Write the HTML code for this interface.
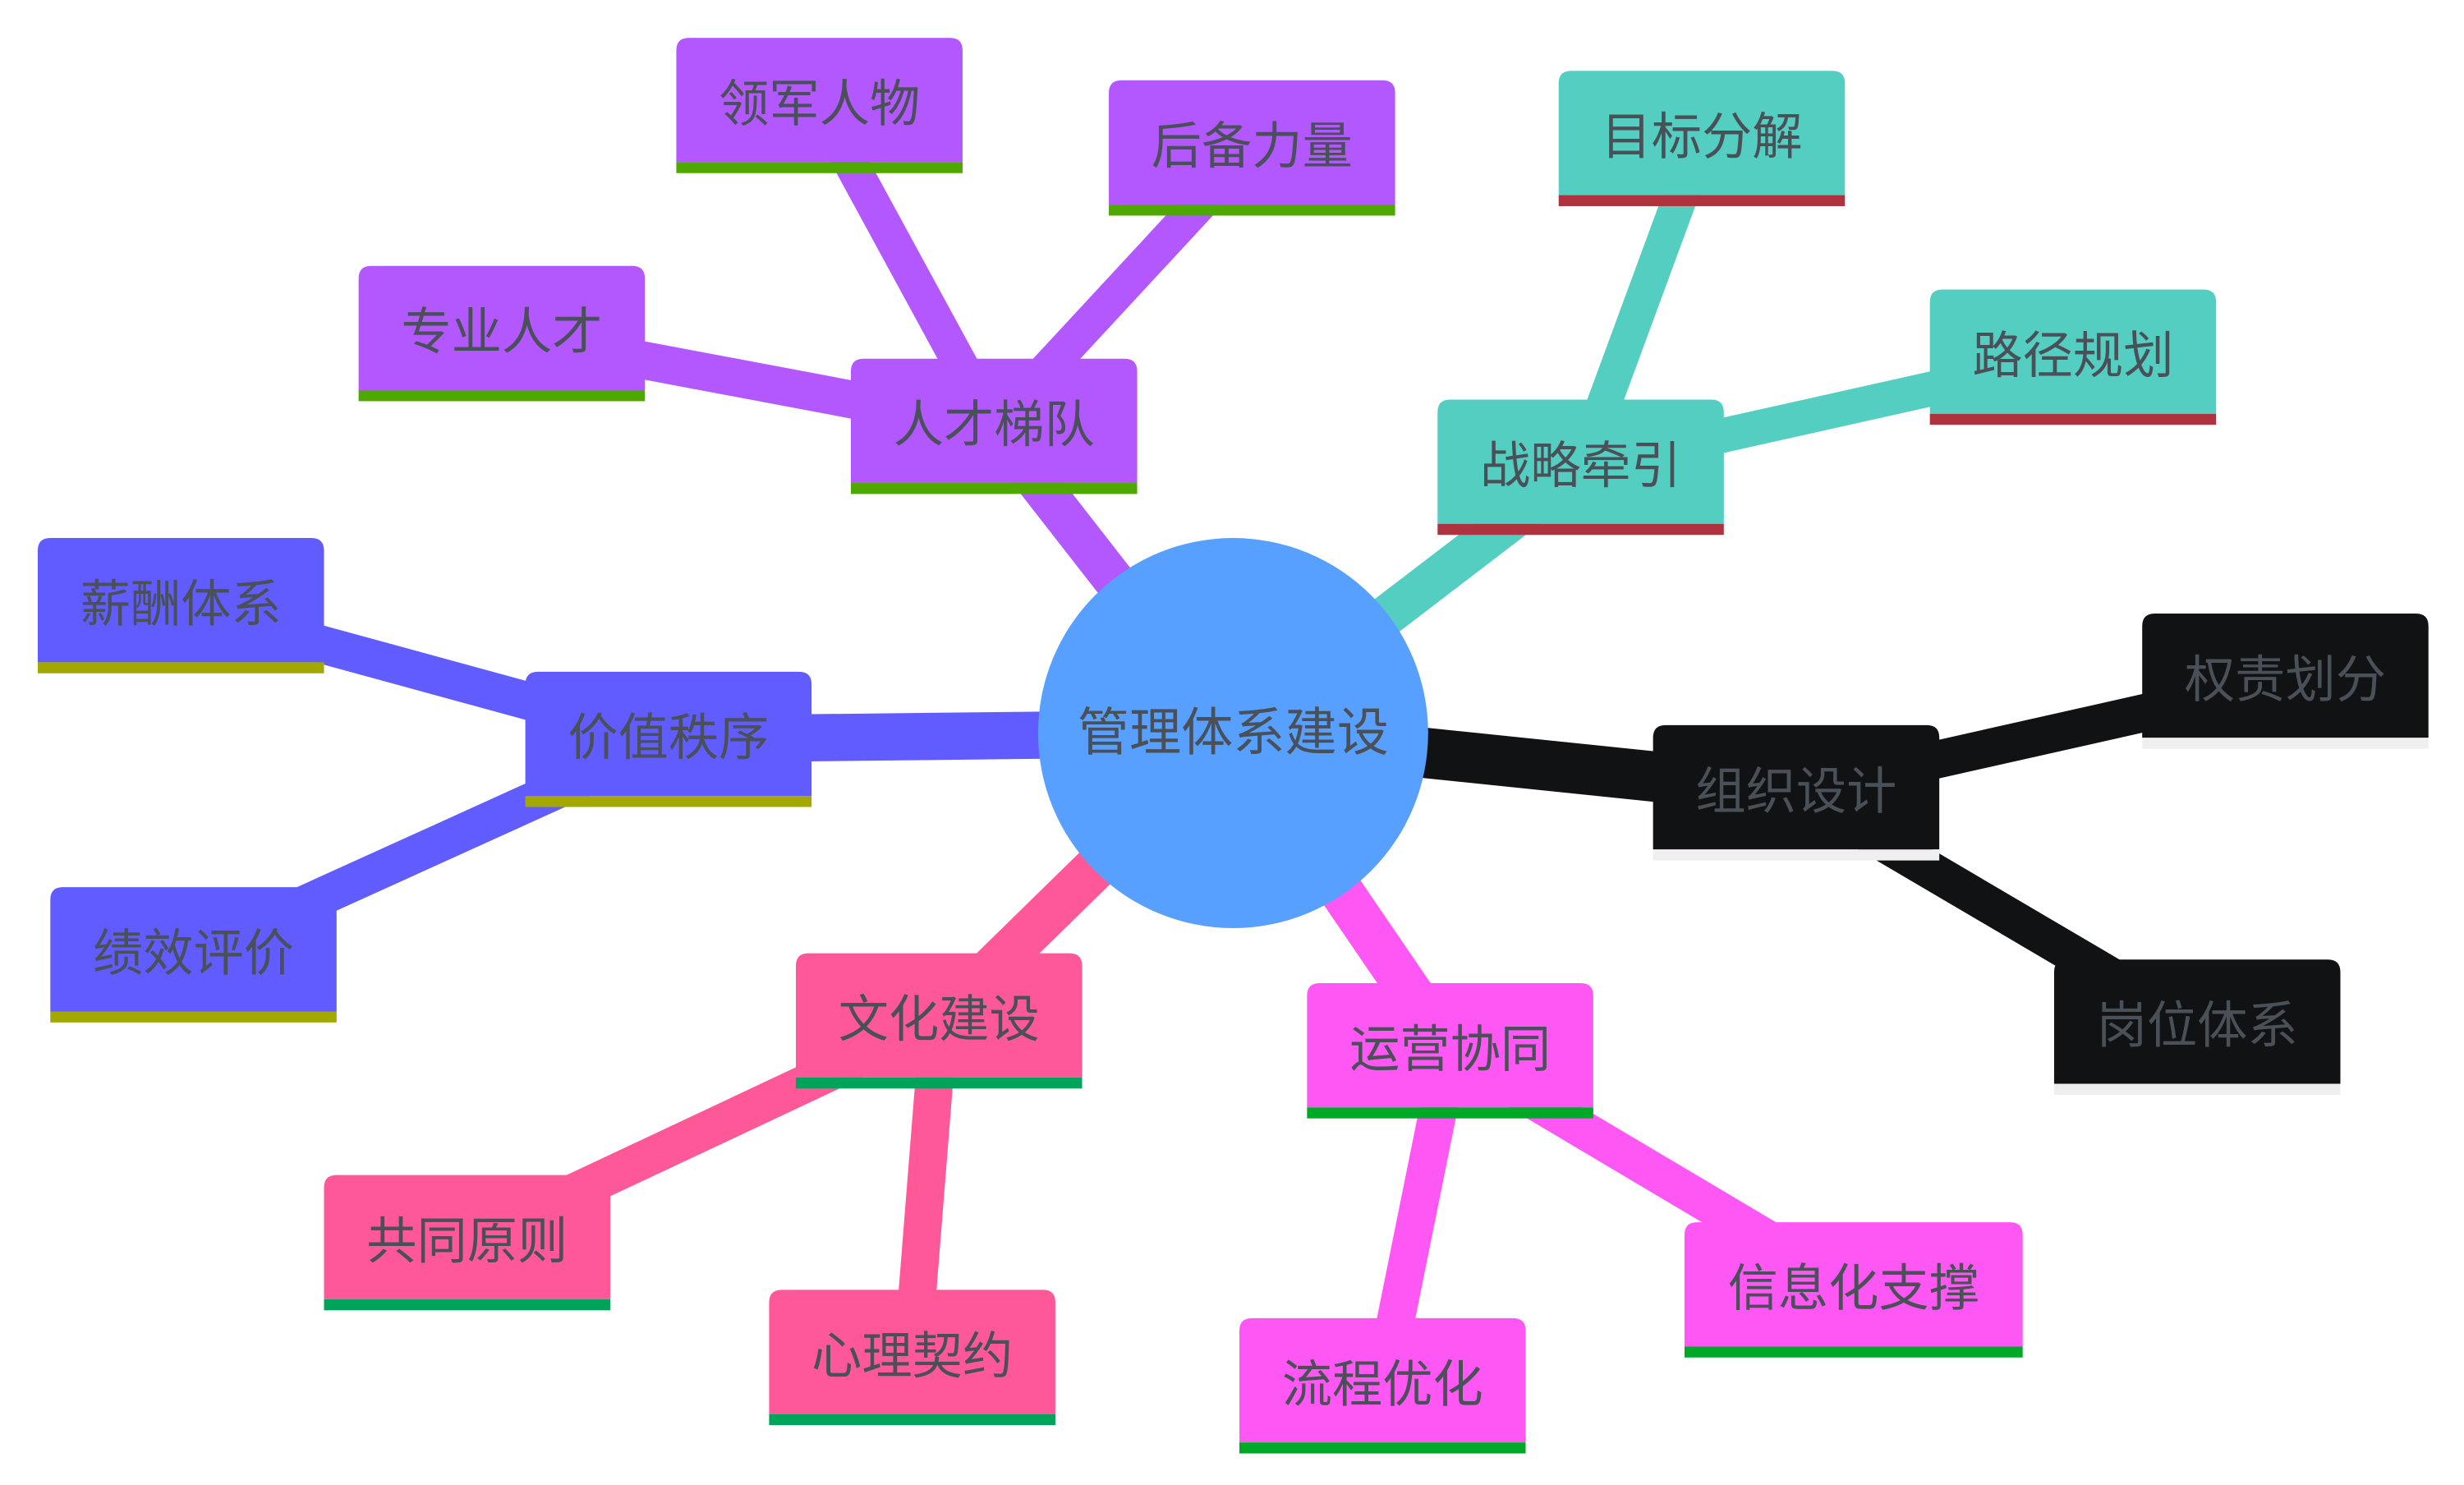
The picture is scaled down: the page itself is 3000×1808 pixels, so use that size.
<!DOCTYPE html>
<html><head><meta charset="utf-8"><style>
html,body{margin:0;padding:0;background:#fff;}
svg{display:block;}
text{font-family:"Liberation Sans","Noto Sans CJK SC",sans-serif;font-size:32px;fill:#4a5058;text-anchor:middle;dominant-baseline:central;}
</style></head><body>
<svg width="3000" height="1808" viewBox="0 0 1566.6 944" xmlns="http://www.w3.org/2000/svg">
<g stroke-linecap="butt">
<!-- root edges -->
<line x1="784" y1="466" x2="632" y2="271" stroke="#b357ff" stroke-width="26"/>
<line x1="784" y1="466" x2="1005" y2="297" stroke="#55cec2" stroke-width="26"/>
<line x1="784" y1="466" x2="425" y2="470" stroke="#615cff" stroke-width="30"/>
<line x1="784" y1="466" x2="1142" y2="503" stroke="#111213" stroke-width="32"/>
<line x1="784" y1="466" x2="597" y2="649" stroke="#ff5899" stroke-width="28"/>
<line x1="784" y1="466" x2="922" y2="668" stroke="#ff57f3" stroke-width="28"/>
<!-- leaf edges -->
<line x1="632" y1="271" x2="521" y2="67" stroke="#b357ff" stroke-width="22"/>
<line x1="632" y1="271" x2="796" y2="94" stroke="#b357ff" stroke-width="22"/>
<line x1="632" y1="271" x2="319" y2="212" stroke="#b357ff" stroke-width="24"/>
<line x1="1005" y1="297" x2="1082" y2="88" stroke="#55cec2" stroke-width="22"/>
<line x1="1005" y1="297" x2="1318" y2="227" stroke="#55cec2" stroke-width="22"/>
<line x1="425" y1="470" x2="114" y2="385" stroke="#615cff" stroke-width="24"/>
<line x1="425" y1="470" x2="123" y2="607" stroke="#615cff" stroke-width="24"/>
<line x1="1142" y1="503" x2="1453" y2="433" stroke="#111213" stroke-width="24"/>
<line x1="1142" y1="503" x2="1397" y2="653" stroke="#111213" stroke-width="24"/>
<line x1="597" y1="649" x2="297" y2="790" stroke="#ff5899" stroke-width="24"/>
<line x1="597" y1="649" x2="580" y2="863" stroke="#ff5899" stroke-width="24"/>
<line x1="922" y1="668" x2="879" y2="881" stroke="#ff57f3" stroke-width="24"/>
<line x1="922" y1="668" x2="1178" y2="820" stroke="#ff57f3" stroke-width="24"/>
</g>
<circle cx="784" cy="466" r="124" fill="#57a0ff"/>
<text x="784" y="466" style="font-size:33px">管理体系建设</text>

<defs>
<path id="n182" d="M0,79 V8 Q0,0 8,0 H174 Q182,0 182,8 V79 Z"/>
<path id="n215" d="M0,79 V8 Q0,0 8,0 H207 Q215,0 215,8 V79 Z"/>
</defs>

<g id="nodes">
<!-- purple -->
<g transform="translate(430,24)"><use href="#n182" fill="#b357ff"/><rect y="79" width="182" height="7" fill="#4fa800"/><text x="91" y="42">领军人物</text></g>
<g transform="translate(705,51)"><use href="#n182" fill="#b357ff"/><rect y="79" width="182" height="7" fill="#4fa800"/><text x="91" y="42">后备力量</text></g>
<g transform="translate(228,169)"><use href="#n182" fill="#b357ff"/><rect y="79" width="182" height="7" fill="#4fa800"/><text x="91" y="42">专业人才</text></g>
<g transform="translate(541,228)"><use href="#n182" fill="#b357ff"/><rect y="79" width="182" height="7" fill="#4fa800"/><text x="91" y="42">人才梯队</text></g>
<!-- teal -->
<g transform="translate(991,45)"><use href="#n182" fill="#55cec2"/><rect y="79" width="182" height="7" fill="#ae333f"/><text x="91" y="42">目标分解</text></g>
<g transform="translate(1227,184)"><use href="#n182" fill="#55cec2"/><rect y="79" width="182" height="7" fill="#ae333f"/><text x="91" y="42">路径规划</text></g>
<g transform="translate(914,254)"><use href="#n182" fill="#55cec2"/><rect y="79" width="182" height="7" fill="#ae333f"/><text x="91" y="42">战略牵引</text></g>
<!-- blue -->
<g transform="translate(24,342)"><use href="#n182" fill="#615cff"/><rect y="79" width="182" height="7" fill="#a3a800"/><text x="91" y="42">薪酬体系</text></g>
<g transform="translate(334,427)"><use href="#n182" fill="#615cff"/><rect y="79" width="182" height="7" fill="#a3a800"/><text x="91" y="42">价值秩序</text></g>
<g transform="translate(32,564)"><use href="#n182" fill="#615cff"/><rect y="79" width="182" height="7" fill="#a3a800"/><text x="91" y="42">绩效评价</text></g>
<!-- black -->
<g transform="translate(1362,390)"><use href="#n182" fill="#111213"/><rect y="79" width="182" height="7" fill="#efefef"/><text x="91" y="42" style="fill:#4a5058">权责划分</text></g>
<g transform="translate(1051,461)"><use href="#n182" fill="#111213"/><rect y="79" width="182" height="7" fill="#efefef"/><text x="91" y="42" style="fill:#4a5058">组织设计</text></g>
<g transform="translate(1306,610)"><use href="#n182" fill="#111213"/><rect y="79" width="182" height="7" fill="#efefef"/><text x="91" y="42" style="fill:#4a5058">岗位体系</text></g>
<!-- pink -->
<g transform="translate(506,606)"><use href="#n182" fill="#ff5899"/><rect y="79" width="182" height="7" fill="#00a35a"/><text x="91" y="42">文化建设</text></g>
<g transform="translate(206,747)"><use href="#n182" fill="#ff5899"/><rect y="79" width="182" height="7" fill="#00a35a"/><text x="91" y="42">共同原则</text></g>
<g transform="translate(489,820)"><use href="#n182" fill="#ff5899"/><rect y="79" width="182" height="7" fill="#00a35a"/><text x="91" y="42">心理契约</text></g>
<!-- magenta -->
<g transform="translate(831,625)"><use href="#n182" fill="#ff57f3"/><rect y="79" width="182" height="7" fill="#00a828"/><text x="91" y="42">运营协同</text></g>
<g transform="translate(788,838)"><use href="#n182" fill="#ff57f3"/><rect y="79" width="182" height="7" fill="#00a828"/><text x="91" y="42">流程优化</text></g>
<g transform="translate(1071,777)"><use href="#n215" fill="#ff57f3"/><rect y="79" width="215" height="7" fill="#00a828"/><text x="107.5" y="42">信息化支撑</text></g>
</g>
</svg>
</body></html>
